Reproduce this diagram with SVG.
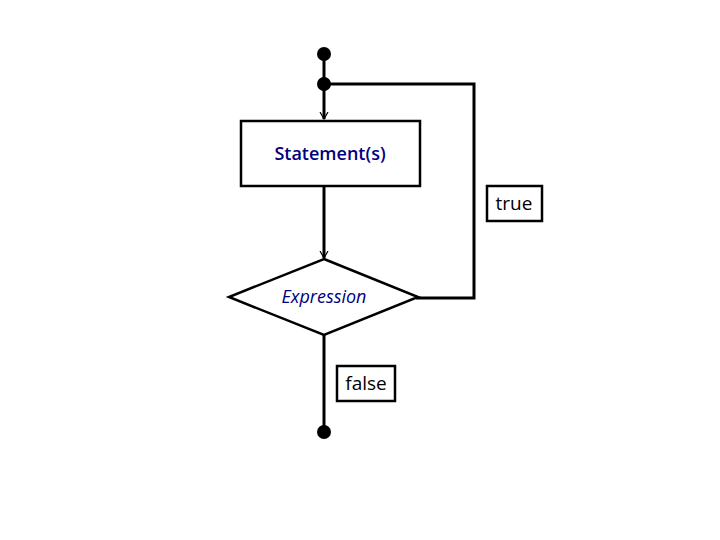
<svg xmlns="http://www.w3.org/2000/svg" width="720" height="540" viewBox="0 0 720 540">
<style>
.s{fill:#fff;stroke:#000;stroke-width:2.5}
.c{fill:none;stroke:#000;stroke-width:3}
.t{font-family:"Open Sans","Noto Sans",sans-serif;font-size:18px;fill:#000080;text-anchor:middle}
.l{font-family:"Open Sans","Noto Sans",sans-serif;font-size:19px;fill:#000;text-anchor:middle}
</style>
<defs><marker id="a" markerWidth="8" markerHeight="10" refX="7" refY="5" orient="auto" markerUnits="userSpaceOnUse"><path d="M0,1 L7,5 L0,9" fill="none" stroke="#000" stroke-width="1.2"/></marker></defs>
<g id="connectors">
<path class="c" d="M324,54 V84"/>
<path class="c" d="M324,84 V119" marker-end="url(#a)"/>
<path class="c" d="M324,84 H474 V298 H416"/>
<path class="c" d="M324,187 V258" marker-end="url(#a)"/>
<path class="c" d="M324,335 V432"/>
<circle cx="324" cy="54" r="7"/>
<circle cx="324" cy="84" r="7"/>
<circle cx="324" cy="432" r="7"/>
</g>
<g id="statement"><rect class="s" x="241" y="121" width="179" height="65"/><text class="t" x="330" y="160" font-weight="600">Statement(s)</text></g>
<g id="expression"><polygon class="s" points="324,259 418,297 324,335 229,297"/><text class="t" x="324" y="303" font-style="italic">Expression</text></g>
<g id="true"><rect class="s" x="487" y="186" width="55" height="35"/><text class="l" x="514" y="210">true</text></g>
<g id="false"><rect class="s" x="337" y="366" width="58" height="35"/><text class="l" x="366" y="390">false</text></g>
</svg>
